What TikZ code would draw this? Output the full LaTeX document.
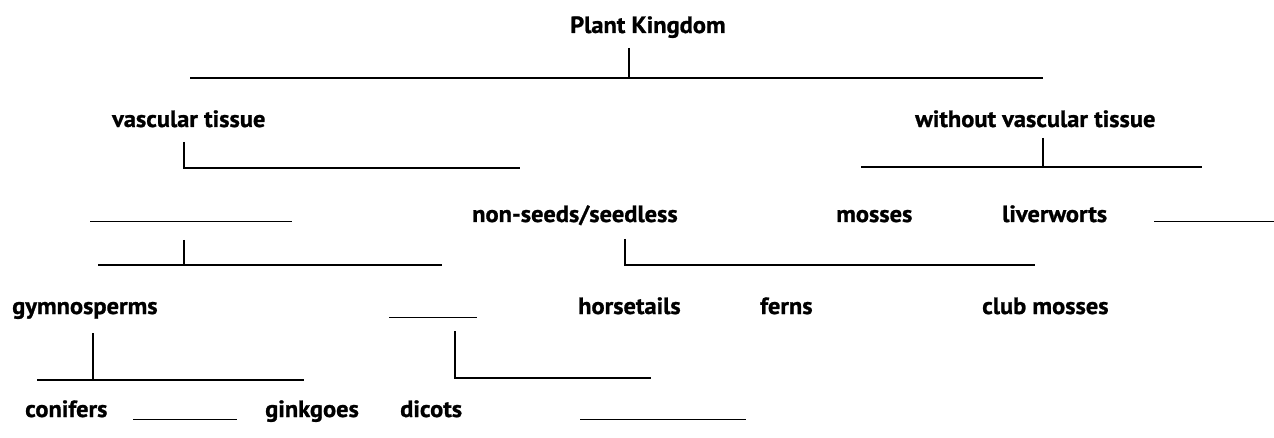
\documentclass[tikz,border=0pt]{standalone}
\usepackage{fontspec}
\setmainfont{PT Sans}[BoldFeatures={FakeStretch=1.04,FakeBold=1}]
\begin{document}
\begin{tikzpicture}[x=1pt,y=-1pt,
  lbl/.style={font=\bfseries\fontsize{23.5}{26}\selectfont, anchor=base west, inner sep=0pt},
  blank/.style={anchor=base west, inner sep=0pt},
  br/.style={line width=2.6pt},
  ]
\useasboundingbox (0,0) rectangle (1274,438);
% labels
\node[lbl] (pk) at (570,33) {Plant Kingdom};
\node[lbl] (vt) at (112,127) {vascular tissue};
\node[lbl] (wvt) at (915,127) {without vascular tissue};
\node[blank] (b1) at (90,222) {\rule{202pt}{1.4pt}};
\node[lbl] (ns) at (472,222) {non-seeds/seedless};
\node[lbl] (mo) at (836,222) {mosses};
\node[lbl] (lw) at (1002,222) {liverworts};
\node[blank] (b2) at (1154,222) {\rule{120pt}{1.4pt}};
\node[lbl] (gy) at (12,314) {gymnosperms};
\node[blank] (b3) at (389,318) {\rule{88pt}{1.4pt}};
\node[lbl] (ho) at (578,314) {horsetails};
\node[lbl] (fe) at (760,314) {ferns};
\node[lbl] (cm) at (982,314) {club mosses};
\node[lbl] (co) at (25,417) {conifers};
\node[blank] (b4) at (133,420) {\rule{104pt}{1.4pt}};
\node[lbl] (gi) at (265,417) {ginkgoes};
\node[lbl] (di) at (400,417) {dicots};
\node[blank] (b5) at (580,420) {\rule{166pt}{1.4pt}};
% brackets
\coordinate (r1) at (629,48);
\coordinate (r1l) at (190,78);
\coordinate (r1r) at (1043,78);
\draw[br] (r1) -- (r1 |- r1l);
\draw[br] (r1l) -- (r1r);
\coordinate (v1) at (184,142);
\coordinate (v1r) at (520,168);
\draw[br] (v1) |- (v1r);
\coordinate (w1) at (1043,138);
\coordinate (w1l) at (861,167);
\coordinate (w1r) at (1202,167);
\draw[br] (w1) -- (w1 |- w1l);
\draw[br] (w1l) -- (w1r);
\coordinate (s1) at (184,240);
\coordinate (s1l) at (98,265);
\coordinate (s1r) at (442,265);
\draw[br] (s1) -- (s1 |- s1l);
\draw[br] (s1l) -- (s1r);
\coordinate (n1) at (625,239);
\coordinate (n1r) at (1035,265);
\draw[br] (n1) |- (n1r);
\coordinate (g1) at (93,333);
\coordinate (g1l) at (37,380);
\coordinate (g1r) at (304,380);
\draw[br] (g1) -- (g1 |- g1l);
\draw[br] (g1l) -- (g1r);
\coordinate (a1) at (455,331);
\coordinate (a1r) at (651,378);
\draw[br] (a1) |- (a1r);
\end{tikzpicture}
\end{document}
